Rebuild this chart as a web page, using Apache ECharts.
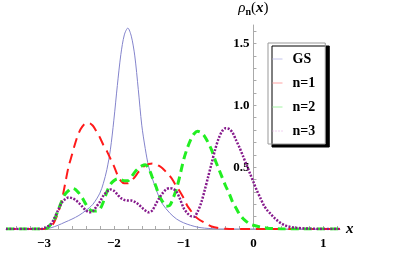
<!DOCTYPE html>
<html>
<head>
<meta charset="utf-8">
<script src="https://cdn.jsdelivr.net/npm/echarts@6/dist/echarts.min.js"></script>
<style>html,body{margin:0;padding:0;background:#fff}#c{width:409px;height:255px}</style>
</head>
<body>
<div id="c"></div>
<script>
// ---- data ----
var seriesNames = ['GS', 'n=1', 'n=2', 'n=3'];
var xTickLabels = [-3, -2, -1, 0, 1];
var yTickLabels = [0.5, 1.0, 1.5];

var gsData = [[-3.545,0],[-3.0,0],[-2.9,0.01],[-2.8,0.03],[-2.7,0.055],[-2.6,0.08],[-2.5,0.11],[-2.4,0.15],[-2.3,0.2],[-2.2,0.29],[-2.15,0.37],[-2.1,0.48],[-2.05,0.64],[-2.0,0.88],[-1.95,1.16],[-1.9,1.41],[-1.85,1.57],[-1.8,1.625],[-1.75,1.56],[-1.7,1.4],[-1.65,1.13],[-1.6,0.84],[-1.55,0.65],[-1.5,0.5],[-1.45,0.41],[-1.4,0.33],[-1.35,0.255],[-1.3,0.2],[-1.2,0.13],[-1.1,0.08],[-1.0,0.05],[-0.9,0.03],[-0.8,0.015],[-0.7,0.007],[-0.6,0.003],[-0.5,0],[1.24,0]];

var n1Data = [[-3.545,0],[-3.0,0],[-2.95,0.005],[-2.9,0.02],[-2.85,0.06],[-2.8,0.13],[-2.75,0.22],[-2.7,0.36],[-2.65,0.5],[-2.6,0.6],[-2.55,0.7],[-2.5,0.78],[-2.45,0.83],[-2.4,0.855],[-2.35,0.855],[-2.3,0.835],[-2.25,0.79],[-2.2,0.74],[-2.15,0.68],[-2.1,0.63],[-2.05,0.57],[-2.0,0.51],[-1.95,0.44],[-1.9,0.39],[-1.85,0.37],[-1.8,0.37],[-1.75,0.39],[-1.7,0.42],[-1.65,0.46],[-1.6,0.49],[-1.55,0.515],[-1.5,0.525],[-1.45,0.53],[-1.4,0.525],[-1.35,0.51],[-1.3,0.49],[-1.25,0.46],[-1.2,0.43],[-1.15,0.39],[-1.1,0.34],[-1.05,0.3],[-1.0,0.25],[-0.95,0.19],[-0.9,0.15],[-0.85,0.11],[-0.8,0.085],[-0.7,0.05],[-0.6,0.02],[-0.5,0.007],[-0.4,0.002],[-0.3,0],[1.24,0]];

var n2Data = [[-3.545,0],[-3.0,0],[-2.95,0.01],[-2.9,0.04],[-2.85,0.08],[-2.8,0.15],[-2.75,0.22],[-2.7,0.28],[-2.65,0.31],[-2.6,0.33],[-2.55,0.32],[-2.5,0.29],[-2.45,0.25],[-2.4,0.2],[-2.35,0.16],[-2.3,0.145],[-2.25,0.145],[-2.2,0.16],[-2.15,0.22],[-2.1,0.3],[-2.05,0.36],[-2.0,0.39],[-1.95,0.405],[-1.9,0.4],[-1.85,0.39],[-1.8,0.39],[-1.75,0.42],[-1.7,0.46],[-1.65,0.49],[-1.6,0.51],[-1.55,0.52],[-1.5,0.49],[-1.45,0.42],[-1.4,0.35],[-1.35,0.27],[-1.3,0.22],[-1.25,0.185],[-1.2,0.19],[-1.15,0.25],[-1.1,0.33],[-1.05,0.44],[-1.0,0.56],[-0.95,0.65],[-0.9,0.72],[-0.85,0.77],[-0.8,0.79],[-0.75,0.78],[-0.7,0.75],[-0.65,0.7],[-0.6,0.64],[-0.55,0.56],[-0.5,0.49],[-0.45,0.42],[-0.4,0.35],[-0.35,0.29],[-0.3,0.22],[-0.25,0.17],[-0.2,0.12],[-0.15,0.085],[-0.1,0.06],[-0.05,0.04],[0.0,0.03],[0.1,0.015],[0.2,0.007],[0.3,0.003],[0.4,0],[1.24,0]];

var n3Data = [[-3.545,0],[-3.05,0],[-3.0,0.005],[-2.95,0.02],[-2.9,0.04],[-2.85,0.09],[-2.8,0.15],[-2.75,0.21],[-2.7,0.24],[-2.65,0.255],[-2.6,0.25],[-2.55,0.235],[-2.5,0.21],[-2.45,0.18],[-2.4,0.15],[-2.35,0.135],[-2.3,0.145],[-2.25,0.18],[-2.2,0.22],[-2.15,0.27],[-2.1,0.3],[-2.05,0.32],[-2.0,0.31],[-1.95,0.28],[-1.9,0.25],[-1.85,0.235],[-1.8,0.23],[-1.75,0.23],[-1.7,0.22],[-1.65,0.2],[-1.6,0.175],[-1.55,0.15],[-1.5,0.135],[-1.45,0.15],[-1.4,0.2],[-1.35,0.25],[-1.3,0.29],[-1.25,0.32],[-1.2,0.33],[-1.15,0.325],[-1.1,0.3],[-1.05,0.24],[-1.0,0.17],[-0.95,0.13],[-0.9,0.105],[-0.85,0.1],[-0.8,0.14],[-0.75,0.21],[-0.7,0.31],[-0.65,0.42],[-0.6,0.53],[-0.55,0.64],[-0.5,0.73],[-0.45,0.79],[-0.4,0.815],[-0.35,0.81],[-0.3,0.78],[-0.25,0.72],[-0.2,0.66],[-0.15,0.59],[-0.1,0.52],[-0.05,0.45],[0.0,0.38],[0.05,0.31],[0.1,0.25],[0.15,0.19],[0.2,0.15],[0.25,0.12],[0.3,0.09],[0.35,0.065],[0.4,0.045],[0.45,0.03],[0.5,0.02],[0.6,0.01],[0.7,0.006],[0.8,0.003],[0.9,0.001],[1.0,0],[1.24,0]];

// ---- chart ----
var serif = '"Liberation Serif","DejaVu Serif",serif';
var xMin = -3.545, xMax = 1.24, gridLeft = 6, gridRight = 69;
var xMinorTicks = [];
for (var i = -17; i <= 6; i++) xMinorTicks.push(Math.round(i * 0.2 * 10) / 10);
var yMinorTicks = [];
for (var j = 1; j <= 16; j++) yMinorTicks.push(Math.round(j * 0.1 * 10) / 10);
var plotW = 409 - gridLeft - gridRight;
var yAxisOffset = -plotW * (0 - xMin) / (xMax - xMin); // place y axis at x = 0

var chart = echarts.init(document.getElementById('c'), null, {renderer: 'canvas'});
var axisColor = '#aaaaaa';
function legendItem(name, color, dash) {
  return {name: name, icon: 'line',
    itemStyle: {color: color, borderColor: color, borderWidth: 1, borderType: dash || 'solid'},
    lineStyle: {color: color, width: 1, type: dash || 'solid'}};
}
chart.setOption({
  animation: false,
  grid: {left: gridLeft, right: gridRight, top: 25, bottom: 26, containLabel: false, outerBoundsMode: 'none'},
  legend: {
    orient: 'vertical',
    left: 268, top: 43,
    padding: [9, 10, 6, 4],
    itemGap: 10,
    itemWidth: 10, itemHeight: 14,
    backgroundColor: '#ffffff',
    borderColor: '#999999', borderWidth: 1,
    shadowColor: '#000000', shadowBlur: 0, shadowOffsetX: 4, shadowOffsetY: 3,
    textStyle: {fontFamily: serif, fontWeight: 'bold', fontSize: 14, color: '#000', padding: [0, 0, 0, 5]},
    data: [
      legendItem(seriesNames[0], '#c4c4ec'),
      legendItem(seriesNames[1], '#ffa4a4'),
      legendItem(seriesNames[2], '#a4f4a4'),
      legendItem(seriesNames[3], '#e4a4e4', [1, 2])
    ]
  },
  xAxis: {
    type: 'value', min: xMin, max: xMax,
    name: 'x', nameLocation: 'end', nameGap: 6,
    nameTextStyle: {fontFamily: serif, fontStyle: 'italic', fontWeight: 'bold', fontSize: 15, color: '#000'},
    axisLine: {onZero: true, lineStyle: {color: axisColor, width: 1}},
    axisTick: {show: true, inside: true, length: 3, customValues: xMinorTicks, lineStyle: {color: axisColor}},
    axisLabel: {customValues: xTickLabels, margin: 8, fontFamily: serif, fontWeight: 'bold', fontSize: 13, color: '#000',
      formatter: function (v) { return v < 0 ? '\u2212' + Math.abs(v) : String(v); }},
    splitLine: {show: false}
  },
  yAxis: {
    type: 'value', min: 0, max: 1.65, position: 'left', offset: yAxisOffset,
    name: '{r|ρ}{n|n}{p|(}{x|x}{p|)}', nameLocation: 'end', nameGap: 8,
    nameTextStyle: {
      color: '#000',
      rich: {
        r: {fontFamily: serif, fontStyle: 'italic', fontSize: 15, color: '#000'},
        n: {fontFamily: serif, fontWeight: 'bold', fontSize: 10, color: '#000', padding: [8, 0, 0, 0]},
        p: {fontFamily: serif, fontSize: 15, color: '#000'},
        x: {fontFamily: serif, fontStyle: 'italic', fontWeight: 'bold', fontSize: 15, color: '#000'}
      }
    },
    axisLine: {onZero: false, lineStyle: {color: axisColor, width: 1}},
    axisTick: {show: true, inside: true, length: 3, customValues: yMinorTicks, lineStyle: {color: axisColor}},
    axisLabel: {customValues: yTickLabels, margin: 4, fontFamily: serif, fontWeight: 'bold', fontSize: 13, color: '#000',
      formatter: function (v) { return v.toFixed(1); }},
    splitLine: {show: false}
  },
  series: [
    {name: seriesNames[0], type: 'line', data: gsData, showSymbol: false, symbol: 'none', smooth: 0.3,
      lineStyle: {color: '#8484cc', width: 1}, itemStyle: {color: '#8484cc'}},
    {name: seriesNames[1], type: 'line', data: n1Data, showSymbol: false, symbol: 'none', smooth: 0.3,
      lineStyle: {color: '#ff1a1a', width: 2, type: [10, 6]}, itemStyle: {color: '#ff1a1a'}},
    {name: seriesNames[2], type: 'line', data: n2Data, showSymbol: false, symbol: 'none', smooth: 0.3,
      lineStyle: {color: '#22ee22', width: 3, type: [8, 5]}, itemStyle: {color: '#22ee22'}},
    {name: seriesNames[3], type: 'line', data: n3Data, showSymbol: false, symbol: 'none', smooth: 0.3,
      lineStyle: {color: '#861a8c', width: 2.5, type: [2, 1.5]}, itemStyle: {color: '#861a8c'}}
  ]
});
</script>
</body>
</html>
